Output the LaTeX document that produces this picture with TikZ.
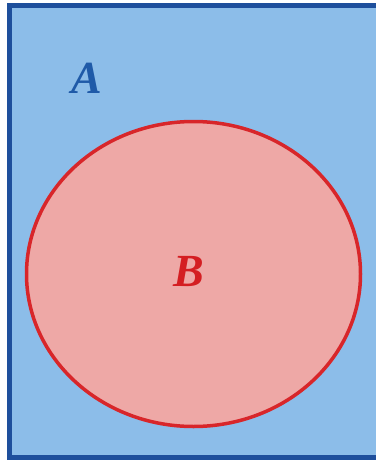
\documentclass[tikz,border=0pt]{standalone}
\usepackage{fontspec}
\setmainfont{Liberation Serif}
\definecolor{setAfill}{HTML}{8CBDE9}
\definecolor{setAline}{HTML}{1E4F9C}
\definecolor{setAtext}{HTML}{1F5AA8}
\definecolor{setBfill}{HTML}{EEA8A6}
\definecolor{setBline}{HTML}{D8262A}
\definecolor{setBtext}{HTML}{D41E22}
\tikzset{
  setlabel/.style={font=\fontsize{46}{46}\selectfont\bfseries\itshape, inner sep=0pt}
}
\begin{document}
\begin{tikzpicture}[x=1pt,y=-1pt]
\useasboundingbox (0,0) rectangle (375,463);
\fill[white] (0,0) rectangle (375,463);
\draw[setAline, fill=setAfill, line width=4.5] (9.5,5.5) rectangle (378,457.5);
\draw[setBline, fill=setBfill, line width=3.5] (193.5,274) ellipse [x radius=167, y radius=152.5];
\node[setlabel, text=setAtext] (A) at (87,78) {A};
\node[setlabel, text=setBtext] (B) at (189,272) {B};
\end{tikzpicture}
\end{document}
